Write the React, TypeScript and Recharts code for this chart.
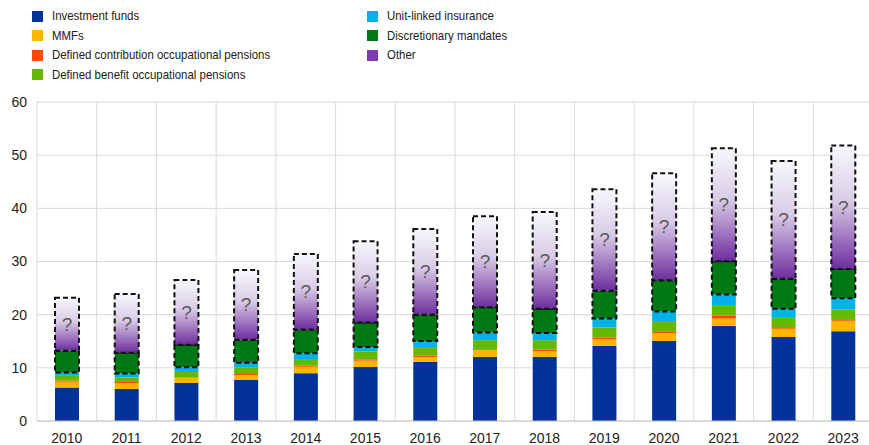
import React from 'react';
import { BarChart, Bar, XAxis, YAxis, CartesianGrid, LabelList } from 'recharts';

const years = ['2010', '2011', '2012', '2013', '2014', '2015', '2016', '2017', '2018', '2019', '2020', '2021', '2022', '2023'];
const investmentFunds = [6.3, 6.0, 7.15, 7.7, 9.0, 10.15, 11.1, 12.05, 12.05, 14.1, 15.05, 17.85, 15.8, 16.9];
const mmfs = [1.1, 1.15, 0.95, 0.95, 1.2, 1.2, 0.95, 1.35, 1.1, 1.3, 1.5, 1.4, 1.55, 1.95];
const definedContribution = [0.2, 0.2, 0.05, 0.2, 0.2, 0.25, 0.3, 0.15, 0.3, 0.25, 0.2, 0.55, 0.3, 0.3];
const definedBenefit = [0.9, 0.85, 1.25, 1.25, 1.25, 1.5, 1.55, 1.65, 1.75, 1.95, 2.05, 1.85, 1.75, 1.85];
const unitLinked = [0.6, 0.75, 0.7, 0.85, 1.1, 0.8, 1.15, 1.45, 1.35, 1.7, 1.8, 2.15, 1.7, 2.1];
const discretionary = [4.1, 3.9, 4.25, 4.35, 4.45, 4.65, 4.95, 4.75, 4.55, 5.2, 5.85, 6.25, 5.65, 5.5];
const other = [10.0, 11.05, 12.15, 13.1, 14.2, 15.25, 16.1, 17.1, 18.2, 19.1, 20.15, 21.25, 22.15, 23.2];
const yTicks = [0, 10, 20, 30, 40, 50, 60];

const seriesNames = [
  'Investment funds',
  'MMFs',
  'Defined contribution occupational pensions',
  'Defined benefit occupational pensions',
  'Unit-linked insurance',
  'Discretionary mandates',
  'Other',
];
const seriesColors = ['#003299', '#ffb400', '#ff4b00', '#65b800', '#00b1ea', '#007816', '#7d3bb0'];

const data = years.map((year, i) => ({
  year,
  inv: investmentFunds[i],
  mmf: mmfs[i],
  dc: definedContribution[i],
  db: definedBenefit[i],
  ul: unitLinked[i],
  dm: discretionary[i],
  oth: other[i],
}));

const font = '"Liberation Sans", Arial, sans-serif';

const QuestionMark = (props: any) => {
  const { x, y, width, height } = props;
  return (
    <text
      x={x + width / 2}
      y={y + height / 2}
      textAnchor="middle"
      dominantBaseline="central"
      fill="#5a5a5a"
      fontSize={19}
      fontFamily={font}
    >
      ?
    </text>
  );
};

const legendLeft = [0, 1, 2, 3];
const legendRight = [4, 5, 6];

const LegendItem = ({ idx, left, top }: { idx: number; left: number; top: number }) => (
  <div style={{ position: 'absolute', left, top, display: 'flex', alignItems: 'center', whiteSpace: 'nowrap' }}>
    <div style={{ width: 11, height: 11, background: seriesColors[idx], marginRight: 9, flex: 'none' }} />
    <span
      style={{
        fontFamily: font,
        fontSize: 13,
        color: '#222',
        lineHeight: '14px',
        display: 'inline-block',
        transform: 'scaleX(0.88)',
        transformOrigin: 'left center',
      }}
    >
      {seriesNames[idx]}
    </span>
  </div>
);

export default function App() {
  return (
    <div style={{ position: 'absolute', left: 0, top: 0, width: 869, height: 445, overflow: 'hidden', background: '#fff' }}>
      {legendLeft.map((idx, r) => (
        <LegendItem key={idx} idx={idx} left={32} top={9 + r * 19.5} />
      ))}
      {legendRight.map((idx, r) => (
        <LegendItem key={idx} idx={idx} left={367} top={9 + r * 19.5} />
      ))}
      <div style={{ position: 'absolute', left: 0, top: 0 }}>
        <BarChart
          width={880}
          height={445}
          data={data}
          margin={{ top: 102, right: 7, left: 0, bottom: 0 }}
          barCategoryGap={0}
        >
          <defs>
            <linearGradient id="otherGrad" x1="0" y1="0" x2="0" y2="1">
              <stop offset="0%" stopColor="#f7f8fd" />
              <stop offset="45%" stopColor="#d9cce6" />
              <stop offset="100%" stopColor="#6e2d9f" />
            </linearGradient>
          </defs>
          <CartesianGrid
            stroke="#d9d9d9"
            strokeWidth={1}
            verticalCoordinatesGenerator={({ offset }: any) =>
              years.map((_, i) => offset.left + (i * offset.width) / years.length).concat([offset.left + offset.width])
            }
          />
          <XAxis
            dataKey="year"
            height={24}
            tickLine={false}
            axisLine={{ stroke: '#c6c6c6' }}
            tickMargin={6}
            tick={{ fill: '#222', fontSize: 14, fontFamily: font }}
            interval={0}
          />
          <YAxis
            width={37}
            domain={[0, 60]}
            ticks={yTicks}
            axisLine={false}
            tickLine={false}
            tickMargin={4}
            tick={{ fill: '#222', fontSize: 14, fontFamily: font }}
          />
          <Bar dataKey="inv" stackId="a" fill={seriesColors[0]} barSize={24} isAnimationActive={false} />
          <Bar dataKey="mmf" stackId="a" fill={seriesColors[1]} barSize={24} isAnimationActive={false} />
          <Bar dataKey="dc" stackId="a" fill={seriesColors[2]} barSize={24} isAnimationActive={false} />
          <Bar dataKey="db" stackId="a" fill={seriesColors[3]} barSize={24} isAnimationActive={false} />
          <Bar dataKey="ul" stackId="a" fill={seriesColors[4]} barSize={24} isAnimationActive={false} />
          <Bar
            dataKey="dm"
            stackId="a"
            fill={seriesColors[5]}
            stroke="#111"
            strokeWidth={2}
            strokeDasharray="5 3"
            barSize={24}
            isAnimationActive={false}
          />
          <Bar
            dataKey="oth"
            stackId="a"
            fill="url(#otherGrad)"
            stroke="#111"
            strokeWidth={2}
            strokeDasharray="5 3"
            barSize={24}
            isAnimationActive={false}
          >
            <LabelList dataKey="oth" content={QuestionMark} />
          </Bar>
        </BarChart>
      </div>
    </div>
  );
}
